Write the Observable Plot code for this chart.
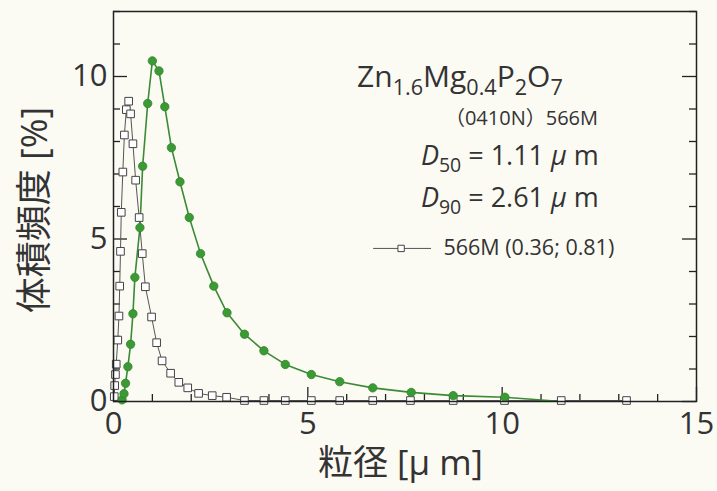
<!DOCTYPE html>
<html><head><meta charset="utf-8">
<script src="https://cdn.jsdelivr.net/npm/d3@7"></script>
<script src="https://cdn.jsdelivr.net/npm/@observablehq/plot@0.6"></script>
<style>
html,body{margin:0;padding:0;background:#fbfbf4;}
#chart{width:717px;height:491px;}
svg{display:block;}
</style></head><body><div id="chart"></div>
<script>
// Green series (filled circles) — particle size [µm] vs volume frequency [%]
const greenX = [0.22,0.27,0.31,0.37,0.44,0.50,0.55,0.68,0.75,0.88,1.00,1.17,1.32,1.49,1.71,1.95,2.24,2.58,2.92,3.37,3.87,4.42,5.09,5.82,6.67,7.66,8.74,10.07,11.52];
const greenY = [0.05,0.24,0.56,1.07,1.76,2.70,3.82,5.35,7.24,9.17,10.48,10.17,9.07,7.81,6.76,5.66,4.55,3.55,2.73,2.07,1.56,1.14,0.83,0.61,0.42,0.28,0.18,0.13,0.0];
// Open-square series "566M (0.36; 0.81)"
const squareX = [0.02,0.03,0.05,0.07,0.11,0.14,0.16,0.18,0.20,0.24,0.28,0.33,0.39,0.44,0.50,0.57,0.66,0.74,0.82,0.98,1.11,1.25,1.47,1.68,1.91,2.19,2.54,2.91,3.37,3.87,4.42,5.09,5.82,6.67,7.64,8.74,10.06,11.52,13.2];
const squareY = [0.15,0.49,0.83,1.15,1.89,2.63,3.55,4.62,5.82,7.06,8.20,8.98,9.24,8.85,7.93,6.81,5.66,4.55,3.53,2.60,1.81,1.25,0.87,0.59,0.42,0.25,0.18,0.13,0.03,0.03,0.03,0.03,0.03,0.03,0.03,0.03,0.03,0.03,0.03];
const xTicks = [0,5,10,15];
const yTicks = [0,5,10];
const xMinor = [0,1,2,3,4,5,6,7,8,9,10,11,12,13,14,15];
const yMinor = [0,1,2,3,4,5,6,7,8,9,10,11,12];
const seriesLabel = "566M (0.36; 0.81)";
const sampleLabel = "（0410N）566M";
const xLabel = "粒径 [μ m]";
const yLabel = "体積頻度 [%]";

const green = greenX.map((x,i)=>({x, y: greenY[i]}));
const squares = squareX.map((x,i)=>({x, y: squareY[i]}));

const W = 717, H = 491, mL = 113, mR = 21, mT = 11, mB = 90;
const FONT = "'Open Sans','Noto Sans CJK JP',sans-serif";
const TXT = "#333";

// tick lengths in pixels converted to data units
const pxX = 15/(W-mL-mR), pxY = 12/(H-mT-mB);
const majX = 14*pxX, minX = 7*pxX, majY = 14*pxY, minY = 7*pxY;

const legendLine = [{x:6.69,y:4.71},{x:8.16,y:4.71}];
const legendSym = [{x:7.40,y:4.71}];

const plot = Plot.plot({
  width: W, height: H,
  marginLeft: mL, marginRight: mR, marginTop: mT, marginBottom: mB,
  x: {domain: [0,15]},
  y: {domain: [0,12]},
  style: {fontFamily: FONT, color: TXT, background: "transparent", overflow: "visible"},
  marks: [
    Plot.ruleX(xMinor, {x: d=>d, y1: 0, y2: d => xTicks.includes(d) ? majY : minY, stroke: "#222", strokeWidth: 1.3}),
    Plot.ruleY(yMinor, {y: d=>d, x1: 0, x2: d => yTicks.includes(d) ? majX : minX, stroke: "#222", strokeWidth: 1.3}),
    Plot.ruleY(yMinor, {y: d=>d, x1: d => 15 - (yTicks.includes(d) ? majX : minX), x2: 15, stroke: "#222", strokeWidth: 1.3}),
    Plot.line(squares, {x: "x", y: "y", stroke: "#555", strokeWidth: 1}),
    Plot.line(green, {x: "x", y: "y", stroke: "#3b8a35", strokeWidth: 1.6}),
    Plot.dot(squares, {x: "x", y: "y", symbol: "square", r: 4.3, fill: "white", stroke: "#444", strokeWidth: 1}),
    Plot.dot(green.filter(d => d.y > 0), {x: "x", y: "y", r: 4.2, fill: "#3b9a33", stroke: "#34852e", strokeWidth: 0.8}),
    Plot.line(legendLine, {x: "x", y: "y", stroke: "#555", strokeWidth: 1}),
    Plot.dot(legendSym, {x: "x", y: "y", symbol: "square", r: 3.6, fill: "white", stroke: "#444", strokeWidth: 1}),
    Plot.text([seriesLabel], {x: 8.49, y: 4.71, text: d=>d, textAnchor: "start", fontSize: 21.5, fill: TXT}),
    Plot.axisX({ticks: xTicks, tickSize: 0, tickPadding: 10, fontSize: 31, label: null}),
    Plot.axisY({ticks: yTicks, tickSize: 0, tickPadding: 6, fontSize: 31, label: null}),
    Plot.frame({stroke: "#222", strokeWidth: 1.5})
  ]
});
document.getElementById("chart").appendChild(plot);

const svg = d3.select(plot);
const sx = plot.scale("x"), sy = plot.scale("y");

// axis titles
svg.append("text")
  .attr("transform", `translate(37,${(mT + H - mB)/2 + 4}) rotate(-90)`)
  .attr("text-anchor","middle").attr("dominant-baseline","middle")
  .attr("font-size",36).attr("fill",TXT).attr("font-family",FONT).text(yLabel);
svg.append("text")
  .attr("x", (mL + W - mR)/2 - 4).attr("y", 466)
  .attr("text-anchor","middle").attr("dominant-baseline","middle")
  .attr("font-size",35).attr("fill",TXT).attr("font-family",FONT).text(xLabel);

// annotation block
function rich(x, y, anchor, size, parts){
  const t = svg.append("text").attr("x", sx.apply(x)).attr("y", sy.apply(y))
    .attr("text-anchor", anchor).attr("font-size", size).attr("fill", TXT).attr("font-family", FONT);
  let shifted = false;
  for (const p of parts){
    const s = t.append("tspan").text(p.t);
    if (p.sub){ s.attr("font-size", size*0.72).attr("dy", shifted ? 0 : size*0.25); shifted = true; }
    else if (shifted){ s.attr("dy", -size*0.25); shifted = false; }
    if (p.it) s.attr("font-style","italic");
  }
  return t;
}
rich(6.28, 9.66, "start", 30, [{t:"Zn"},{t:"1.6",sub:1},{t:"Mg"},{t:"0.4",sub:1},{t:"P"},{t:"2",sub:1},{t:"O"},{t:"7",sub:1}]);
rich(12.48, 8.49, "end", 20, [{t:sampleLabel}]);
rich(12.5, 7.26, "end", 27, [{t:"D",it:1},{t:"50",sub:1},{t:" = 1.11 "},{t:"μ",it:1},{t:" m"}]);
rich(12.5, 5.97, "end", 27, [{t:"D",it:1},{t:"90",sub:1},{t:" = 2.61 "},{t:"μ",it:1},{t:" m"}]);
</script></body></html>
